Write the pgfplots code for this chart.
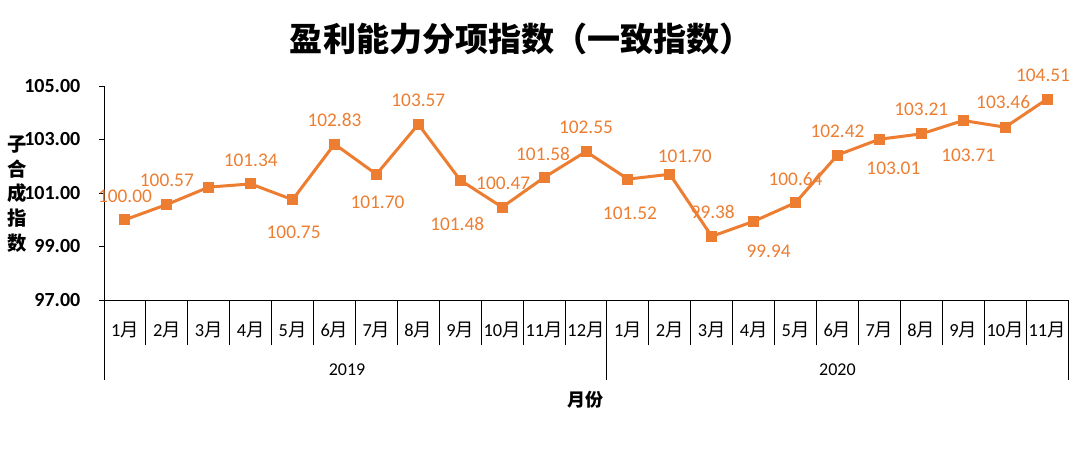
\documentclass[border=0pt]{standalone}
\usepackage{fontspec}
\setmainfont{Carlito}
\newfontfamily\cjk{Noto Sans CJK SC}
\usepackage{pgfplots}
\usepackage{pgfplotstable}
\pgfplotsset{compat=1.18}
\definecolor{xlorange}{HTML}{ED7D31}
\newcommand\yue{{\cjk 月}}

\pgfplotstableread{
x y lbl dx dy
0 100.00 100.00 0 23
1 100.57 100.57 0 24
2 101.22 {} 0 0
3 101.34 101.34 0 24
4 100.75 100.75 1 -33
5 102.83 102.83 0 24
6 101.70 101.70 1 -28
7 103.57 103.57 0 24
8 101.48 101.48 -3 -44
9 100.47 100.47 1 24
10 101.58 101.58 -1 24
11 102.55 102.55 0 24
12 101.52 101.52 2 -34
13 101.70 101.70 15 18
14 99.38 99.38 1 24
15 99.94 99.94 15 -30
16 100.64 100.64 0 24
17 102.42 102.42 0 24
18 103.01 103.01 14 -29
19 103.21 103.21 0 25
20 103.71 103.71 5 -35
21 103.46 103.46 -2 25
22 104.51 104.51 -4 24
}\datatable

\begin{document}
\begin{tikzpicture}
\path[use as bounding box] (0,0) rectangle (808.5pt,340.5pt);
\begin{axis}[
  at={(78pt,115.5pt)}, anchor=south west,
  scale only axis, width=723pt, height=160.5pt,
  xmin=-0.5, xmax=22.5, ymin=97, ymax=105,
  clip=false,
  axis x line=bottom, axis y line=left,
  axis line style={-, black, line width=0.75pt},
  tick align=outside, major tick length=3.75pt,
  ytick={97,99,101,103,105},
  ytick style={black, line width=0.75pt},
  /pgf/number format/assume math mode=true,
  yticklabel style={/pgf/number format/.cd, fixed, fixed zerofill, precision=2, /tikz/.cd,
    font=\bfseries\fontsize{15}{18}\selectfont, xshift=-10.5pt},
  xtick={0,...,22},
  xticklabels={1\yue,2\yue,3\yue,4\yue,5\yue,6\yue,7\yue,8\yue,9\yue,10\yue,11\yue,12\yue,
               1\yue,2\yue,3\yue,4\yue,5\yue,6\yue,7\yue,8\yue,9\yue,10\yue,11\yue},
  xtick style={draw=none},
  xticklabel style={anchor=center, yshift=-18.75pt, font=\fontsize{13.8}{16}\selectfont},
  extra x ticks={-0.5,0.5,...,22.5},
  extra x tick labels={},
  extra x tick style={major tick length=33.75pt, xtick style={draw=black, line width=0.75pt}},
  title={\cjk\bfseries 盈利能力分项指数（一致指数）},
  title style={at={(axis description cs:0.433,1.183)}, anchor=center, font=\fontsize{24.8}{29}\selectfont},
  ylabel={子\\合\\成\\指\\数},
  every axis y label/.style={at={(axis description cs:-0.0903,0.495)}, anchor=center, align=center,
    font=\cjk\bfseries\fontsize{14.5}{18.4}\selectfont},
  xlabel={\cjk\bfseries 月份},
  every axis x label/.style={at={(axis description cs:0.499,-0.467)}, anchor=center,
    font=\fontsize{13.5}{16}\selectfont},
]
\addplot[xlorange, line width=2.25pt, mark=square*, mark size=3.75pt,
  mark options={solid, fill=xlorange, draw=xlorange, line width=0pt},
  point meta=explicit symbolic,
  visualization depends on={\thisrow{dx} \as \ldx},
  visualization depends on={\thisrow{dy} \as \ldy},
  nodes near coords,
  nodes near coords style={anchor=center, xshift=\ldx*0.75pt, yshift=\ldy*0.75pt,
    font=\fontsize{14.5}{17}\selectfont, text=xlorange}]
  table[x=x, y=y, meta=lbl] {\datatable};
\draw[black, line width=0.75pt] (axis cs:-0.5,97) -- ++(0pt,-60pt);
\draw[black, line width=0.75pt] (axis cs:11.5,97) -- ++(0pt,-60pt);
\draw[black, line width=0.75pt] (axis cs:22.5,97) -- ++(0pt,-60pt);
\node[font=\fontsize{13.5}{16}\selectfont] at (axis cs:5.3,97) [yshift=-52.5pt] {2019};
\node[font=\fontsize{13.5}{16}\selectfont] at (axis cs:17,97) [yshift=-52.5pt] {2020};
\end{axis}
\end{tikzpicture}
\end{document}
